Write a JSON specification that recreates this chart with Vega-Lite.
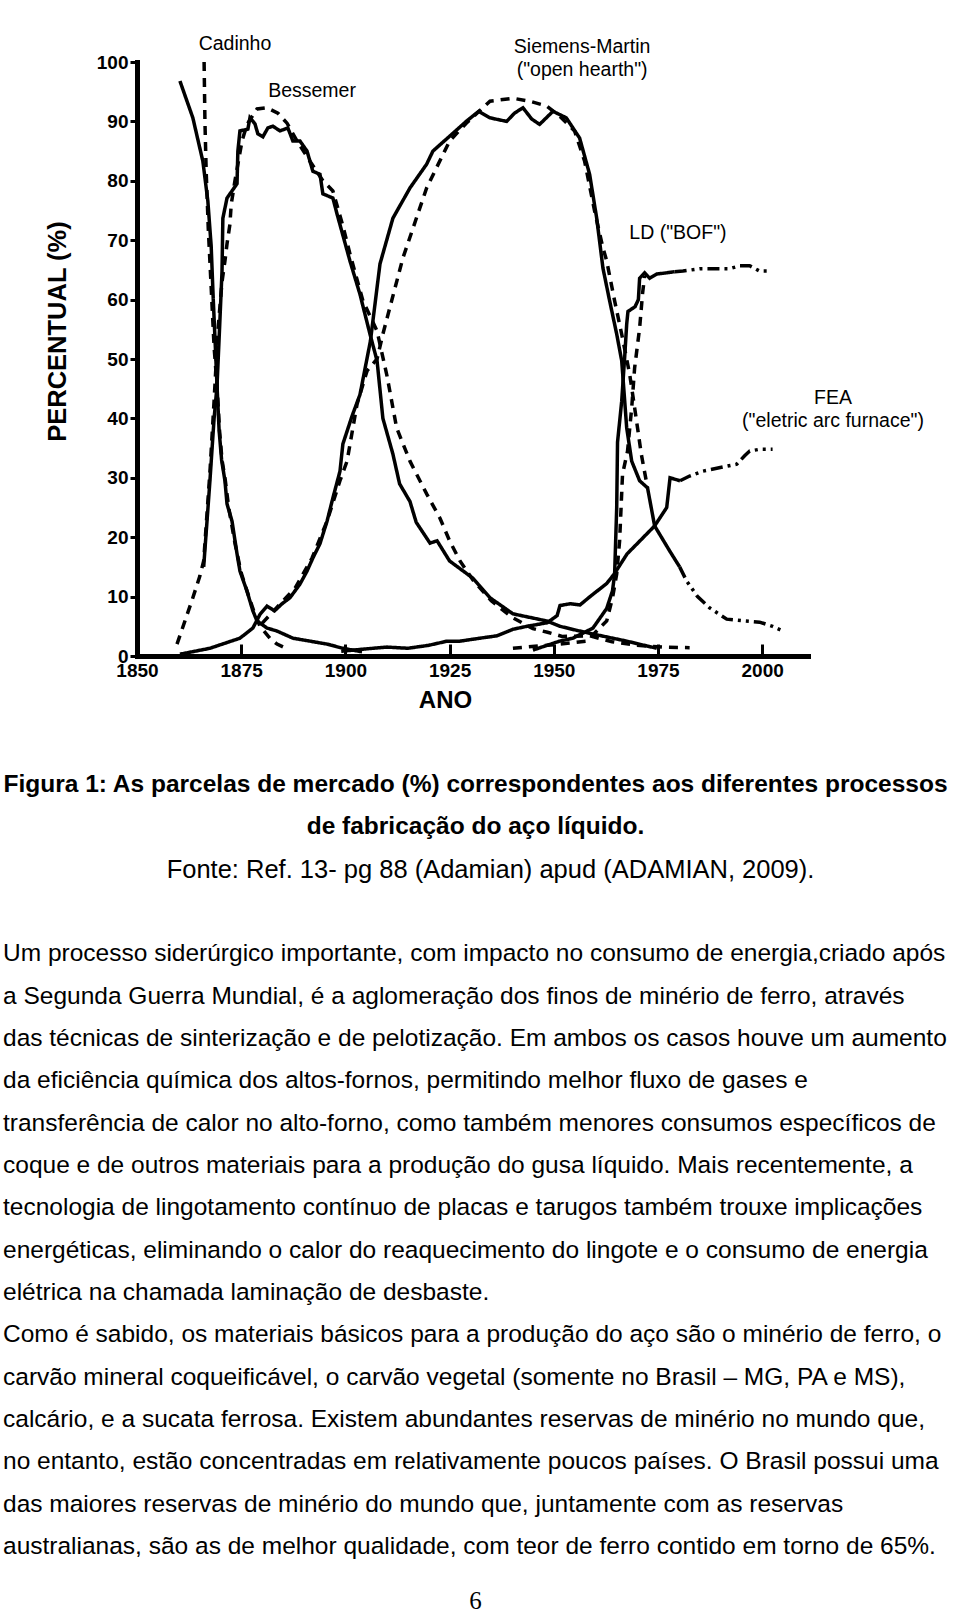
{
  "$schema": "https://vega.github.io/schema/vega-lite/v6.json",
  "background": "white",
  "autosize": {"type": "pad"},
  "padding": {"left": 3, "top": 33, "right": 0, "bottom": 0},
  "spacing": 60,
  "config": {"view": {"stroke": null}, "font": "Liberation Sans", "axis": {"grid": false}},
  "datasets": {
    "curvas": [
      {"processo": "Cadinho", "serie": "a", "ano": 1860.3, "pct": 96.8},
      {"processo": "Cadinho", "serie": "a", "ano": 1863.4, "pct": 90.6},
      {"processo": "Cadinho", "serie": "a", "ano": 1865.8, "pct": 83.3},
      {"processo": "Cadinho", "serie": "a", "ano": 1867.0, "pct": 76.6},
      {"processo": "Cadinho", "serie": "a", "ano": 1867.8, "pct": 69.0},
      {"processo": "Cadinho", "serie": "a", "ano": 1868.3, "pct": 60.0},
      {"processo": "Cadinho", "serie": "a", "ano": 1868.8, "pct": 52.0},
      {"processo": "Cadinho", "serie": "a", "ano": 1869.2, "pct": 45.5},
      {"processo": "Cadinho", "serie": "a", "ano": 1869.7, "pct": 38.0},
      {"processo": "Cadinho", "serie": "a", "ano": 1870.3, "pct": 33.0},
      {"processo": "Cadinho", "serie": "a", "ano": 1871.1, "pct": 29.5},
      {"processo": "Cadinho", "serie": "a", "ano": 1871.6, "pct": 25.6},
      {"processo": "Cadinho", "serie": "a", "ano": 1872.8, "pct": 22.7},
      {"processo": "Cadinho", "serie": "a", "ano": 1874.0, "pct": 17.2},
      {"processo": "Cadinho", "serie": "a", "ano": 1874.7, "pct": 14.3},
      {"processo": "Cadinho", "serie": "a", "ano": 1876.4, "pct": 10.9},
      {"processo": "Cadinho", "serie": "a", "ano": 1877.8, "pct": 7.6},
      {"processo": "Cadinho", "serie": "a", "ano": 1878.8, "pct": 5.9},
      {"processo": "Cadinho", "serie": "a", "ano": 1881.2, "pct": 4.7},
      {"processo": "Cadinho", "serie": "a", "ano": 1883.6, "pct": 4.2},
      {"processo": "Cadinho", "serie": "a", "ano": 1887.4, "pct": 3.0},
      {"processo": "Cadinho", "serie": "a", "ano": 1891.5, "pct": 2.5},
      {"processo": "Cadinho", "serie": "a", "ano": 1895.6, "pct": 2.0},
      {"processo": "Cadinho", "serie": "a", "ano": 1899.4, "pct": 1.3},
      {"processo": "Cadinho", "serie": "a", "ano": 1904.0, "pct": 0.7},
      {"processo": "Cadinho", "serie": "b", "ano": 1866.1, "pct": 100},
      {"processo": "Cadinho", "serie": "b", "ano": 1866.3, "pct": 90},
      {"processo": "Cadinho", "serie": "b", "ano": 1866.6, "pct": 81.6},
      {"processo": "Cadinho", "serie": "b", "ano": 1867.1, "pct": 72},
      {"processo": "Cadinho", "serie": "b", "ano": 1867.8, "pct": 62},
      {"processo": "Cadinho", "serie": "b", "ano": 1868.5, "pct": 52},
      {"processo": "Cadinho", "serie": "b", "ano": 1869.2, "pct": 45.5},
      {"processo": "Cadinho", "serie": "b", "ano": 1869.8, "pct": 38},
      {"processo": "Cadinho", "serie": "b", "ano": 1870.4, "pct": 33},
      {"processo": "Cadinho", "serie": "b", "ano": 1871.2, "pct": 29.5},
      {"processo": "Cadinho", "serie": "b", "ano": 1872.0, "pct": 25},
      {"processo": "Cadinho", "serie": "b", "ano": 1873.5, "pct": 19},
      {"processo": "Cadinho", "serie": "b", "ano": 1875.0, "pct": 14},
      {"processo": "Cadinho", "serie": "b", "ano": 1876.6, "pct": 10.5},
      {"processo": "Cadinho", "serie": "b", "ano": 1878.0, "pct": 7.6},
      {"processo": "Cadinho", "serie": "b", "ano": 1879.5, "pct": 5},
      {"processo": "Cadinho", "serie": "b", "ano": 1881.9, "pct": 3},
      {"processo": "Cadinho", "serie": "b", "ano": 1883.6, "pct": 2},
      {"processo": "Cadinho", "serie": "b", "ano": 1886.0, "pct": 1.2},
      {"processo": "Bessemer", "serie": "a", "ano": 1866.0, "pct": 15},
      {"processo": "Bessemer", "serie": "a", "ano": 1867.5, "pct": 29.5},
      {"processo": "Bessemer", "serie": "a", "ano": 1868.5, "pct": 40},
      {"processo": "Bessemer", "serie": "a", "ano": 1869.2, "pct": 45.5},
      {"processo": "Bessemer", "serie": "a", "ano": 1869.8, "pct": 55},
      {"processo": "Bessemer", "serie": "a", "ano": 1870.4, "pct": 64.8},
      {"processo": "Bessemer", "serie": "a", "ano": 1870.6, "pct": 73.7},
      {"processo": "Bessemer", "serie": "a", "ano": 1871.6, "pct": 77.1},
      {"processo": "Bessemer", "serie": "a", "ano": 1872.8, "pct": 78.3},
      {"processo": "Bessemer", "serie": "a", "ano": 1874.0, "pct": 79.5},
      {"processo": "Bessemer", "serie": "a", "ano": 1874.2, "pct": 85},
      {"processo": "Bessemer", "serie": "a", "ano": 1874.7, "pct": 88.4},
      {"processo": "Bessemer", "serie": "a", "ano": 1876.6, "pct": 88.7},
      {"processo": "Bessemer", "serie": "a", "ano": 1877.1, "pct": 90.6},
      {"processo": "Bessemer", "serie": "a", "ano": 1878.3, "pct": 89.6},
      {"processo": "Bessemer", "serie": "a", "ano": 1879.0, "pct": 87.9},
      {"processo": "Bessemer", "serie": "a", "ano": 1880.2, "pct": 87.4},
      {"processo": "Bessemer", "serie": "a", "ano": 1881.4, "pct": 88.9},
      {"processo": "Bessemer", "serie": "a", "ano": 1882.6, "pct": 89.2},
      {"processo": "Bessemer", "serie": "a", "ano": 1884.3, "pct": 88.4},
      {"processo": "Bessemer", "serie": "a", "ano": 1886.2, "pct": 88.9},
      {"processo": "Bessemer", "serie": "a", "ano": 1887.4, "pct": 86.7},
      {"processo": "Bessemer", "serie": "a", "ano": 1889.1, "pct": 86.7},
      {"processo": "Bessemer", "serie": "a", "ano": 1890.8, "pct": 85},
      {"processo": "Bessemer", "serie": "a", "ano": 1892.2, "pct": 81.6},
      {"processo": "Bessemer", "serie": "a", "ano": 1893.9, "pct": 81.1},
      {"processo": "Bessemer", "serie": "a", "ano": 1894.6, "pct": 77.8},
      {"processo": "Bessemer", "serie": "a", "ano": 1897.0, "pct": 77.1},
      {"processo": "Bessemer", "serie": "a", "ano": 1898.0, "pct": 74.4},
      {"processo": "Bessemer", "serie": "a", "ano": 1901.1, "pct": 66.5},
      {"processo": "Bessemer", "serie": "a", "ano": 1903.5, "pct": 60.9},
      {"processo": "Bessemer", "serie": "a", "ano": 1905.9, "pct": 54.2},
      {"processo": "Bessemer", "serie": "a", "ano": 1907.6, "pct": 49.7},
      {"processo": "Bessemer", "serie": "a", "ano": 1909.0, "pct": 40},
      {"processo": "Bessemer", "serie": "a", "ano": 1911.4, "pct": 34},
      {"processo": "Bessemer", "serie": "a", "ano": 1913.0, "pct": 29},
      {"processo": "Bessemer", "serie": "a", "ano": 1915.5, "pct": 26},
      {"processo": "Bessemer", "serie": "a", "ano": 1917.0, "pct": 22.5},
      {"processo": "Bessemer", "serie": "a", "ano": 1920.3, "pct": 19},
      {"processo": "Bessemer", "serie": "a", "ano": 1922.0, "pct": 19.4},
      {"processo": "Bessemer", "serie": "a", "ano": 1925.0, "pct": 16},
      {"processo": "Bessemer", "serie": "a", "ano": 1930.6, "pct": 13.1},
      {"processo": "Bessemer", "serie": "a", "ano": 1934.7, "pct": 9.8},
      {"processo": "Bessemer", "serie": "a", "ano": 1940.2, "pct": 7.1},
      {"processo": "Bessemer", "serie": "a", "ano": 1948.3, "pct": 5.9},
      {"processo": "Bessemer", "serie": "a", "ano": 1951.5, "pct": 5},
      {"processo": "Bessemer", "serie": "a", "ano": 1955.6, "pct": 4.3},
      {"processo": "Bessemer", "serie": "a", "ano": 1959.4, "pct": 3.7},
      {"processo": "Bessemer", "serie": "a", "ano": 1967.5, "pct": 2.5},
      {"processo": "Bessemer", "serie": "a", "ano": 1974.7, "pct": 1.3},
      {"processo": "Bessemer", "serie": "b", "ano": 1859.6, "pct": 2},
      {"processo": "Bessemer", "serie": "b", "ano": 1861.5, "pct": 5.9},
      {"processo": "Bessemer", "serie": "b", "ano": 1863.4, "pct": 9.8},
      {"processo": "Bessemer", "serie": "b", "ano": 1865.1, "pct": 13.5},
      {"processo": "Bessemer", "serie": "b", "ano": 1866.0, "pct": 16},
      {"processo": "Bessemer", "serie": "b", "ano": 1867.5, "pct": 31},
      {"processo": "Bessemer", "serie": "b", "ano": 1868.5, "pct": 43},
      {"processo": "Bessemer", "serie": "b", "ano": 1869.4, "pct": 54.7},
      {"processo": "Bessemer", "serie": "b", "ano": 1870.4, "pct": 63},
      {"processo": "Bessemer", "serie": "b", "ano": 1871.1, "pct": 66.5},
      {"processo": "Bessemer", "serie": "b", "ano": 1871.6, "pct": 69.4},
      {"processo": "Bessemer", "serie": "b", "ano": 1872.3, "pct": 72.7},
      {"processo": "Bessemer", "serie": "b", "ano": 1872.6, "pct": 76},
      {"processo": "Bessemer", "serie": "b", "ano": 1873.5, "pct": 80},
      {"processo": "Bessemer", "serie": "b", "ano": 1875.2, "pct": 86.7},
      {"processo": "Bessemer", "serie": "b", "ano": 1876.4, "pct": 89.5},
      {"processo": "Bessemer", "serie": "b", "ano": 1878.8, "pct": 92.1},
      {"processo": "Bessemer", "serie": "b", "ano": 1881.2, "pct": 92.3},
      {"processo": "Bessemer", "serie": "b", "ano": 1883.8, "pct": 91.4},
      {"processo": "Bessemer", "serie": "b", "ano": 1886.0, "pct": 89.7},
      {"processo": "Bessemer", "serie": "b", "ano": 1888.4, "pct": 86.7},
      {"processo": "Bessemer", "serie": "b", "ano": 1891.5, "pct": 83.3},
      {"processo": "Bessemer", "serie": "b", "ano": 1894.6, "pct": 80},
      {"processo": "Bessemer", "serie": "b", "ano": 1897.0, "pct": 78.3},
      {"processo": "Bessemer", "serie": "b", "ano": 1899.4, "pct": 72.4},
      {"processo": "Bessemer", "serie": "b", "ano": 1901.1, "pct": 67.7},
      {"processo": "Bessemer", "serie": "b", "ano": 1904.2, "pct": 59.8},
      {"processo": "Bessemer", "serie": "b", "ano": 1907.6, "pct": 54.7},
      {"processo": "Bessemer", "serie": "b", "ano": 1910.0, "pct": 47.1},
      {"processo": "Bessemer", "serie": "b", "ano": 1912.3, "pct": 38.4},
      {"processo": "Bessemer", "serie": "b", "ano": 1915.5, "pct": 32.8},
      {"processo": "Bessemer", "serie": "b", "ano": 1919.5, "pct": 27.3},
      {"processo": "Bessemer", "serie": "b", "ano": 1922.7, "pct": 23.2},
      {"processo": "Bessemer", "serie": "b", "ano": 1925.0, "pct": 19.4},
      {"processo": "Bessemer", "serie": "b", "ano": 1927.5, "pct": 16},
      {"processo": "Bessemer", "serie": "b", "ano": 1930.6, "pct": 12.8},
      {"processo": "Bessemer", "serie": "b", "ano": 1935.0, "pct": 9.3},
      {"processo": "Bessemer", "serie": "b", "ano": 1940.0, "pct": 6.5},
      {"processo": "Bessemer", "serie": "b", "ano": 1945.0, "pct": 4.6},
      {"processo": "Bessemer", "serie": "b", "ano": 1948.5, "pct": 4},
      {"processo": "Bessemer", "serie": "b", "ano": 1952.0, "pct": 3.3},
      {"processo": "Bessemer", "serie": "b", "ano": 1958.6, "pct": 3.4},
      {"processo": "Bessemer", "serie": "b", "ano": 1964.0, "pct": 2.4},
      {"processo": "Bessemer", "serie": "b", "ano": 1970.0, "pct": 1.8},
      {"processo": "Bessemer", "serie": "b", "ano": 1976.0, "pct": 1.5},
      {"processo": "Bessemer", "serie": "b", "ano": 1982.6, "pct": 1.4},
      {"processo": "Siemens-Martin", "serie": "a", "ano": 1860.3, "pct": 0.3},
      {"processo": "Siemens-Martin", "serie": "a", "ano": 1867.5, "pct": 1.3},
      {"processo": "Siemens-Martin", "serie": "a", "ano": 1874.7, "pct": 3},
      {"processo": "Siemens-Martin", "serie": "a", "ano": 1877.8, "pct": 4.7},
      {"processo": "Siemens-Martin", "serie": "a", "ano": 1879.5, "pct": 7},
      {"processo": "Siemens-Martin", "serie": "a", "ano": 1881.2, "pct": 8.4},
      {"processo": "Siemens-Martin", "serie": "a", "ano": 1883.0, "pct": 7.6},
      {"processo": "Siemens-Martin", "serie": "a", "ano": 1884.8, "pct": 8.8},
      {"processo": "Siemens-Martin", "serie": "a", "ano": 1886.7, "pct": 9.8},
      {"processo": "Siemens-Martin", "serie": "a", "ano": 1889.1, "pct": 12.1},
      {"processo": "Siemens-Martin", "serie": "a", "ano": 1890.8, "pct": 14.3},
      {"processo": "Siemens-Martin", "serie": "a", "ano": 1892.2, "pct": 16.5},
      {"processo": "Siemens-Martin", "serie": "a", "ano": 1893.9, "pct": 18.9},
      {"processo": "Siemens-Martin", "serie": "a", "ano": 1895.6, "pct": 22.7},
      {"processo": "Siemens-Martin", "serie": "a", "ano": 1897.0, "pct": 26.6},
      {"processo": "Siemens-Martin", "serie": "a", "ano": 1898.7, "pct": 31.1},
      {"processo": "Siemens-Martin", "serie": "a", "ano": 1899.4, "pct": 35.7},
      {"processo": "Siemens-Martin", "serie": "a", "ano": 1901.6, "pct": 40.4},
      {"processo": "Siemens-Martin", "serie": "a", "ano": 1903.5, "pct": 44},
      {"processo": "Siemens-Martin", "serie": "a", "ano": 1906.0, "pct": 53},
      {"processo": "Siemens-Martin", "serie": "a", "ano": 1908.3, "pct": 66},
      {"processo": "Siemens-Martin", "serie": "a", "ano": 1911.4, "pct": 73.7},
      {"processo": "Siemens-Martin", "serie": "a", "ano": 1915.5, "pct": 78.8},
      {"processo": "Siemens-Martin", "serie": "a", "ano": 1919.5, "pct": 82.8},
      {"processo": "Siemens-Martin", "serie": "a", "ano": 1921.0, "pct": 85},
      {"processo": "Siemens-Martin", "serie": "a", "ano": 1925.0, "pct": 87.5},
      {"processo": "Siemens-Martin", "serie": "a", "ano": 1929.0, "pct": 90},
      {"processo": "Siemens-Martin", "serie": "a", "ano": 1932.0, "pct": 91.7},
      {"processo": "Siemens-Martin", "serie": "a", "ano": 1934.7, "pct": 90.6},
      {"processo": "Siemens-Martin", "serie": "a", "ano": 1938.7, "pct": 90},
      {"processo": "Siemens-Martin", "serie": "a", "ano": 1940.6, "pct": 91.4},
      {"processo": "Siemens-Martin", "serie": "a", "ano": 1942.6, "pct": 92.3},
      {"processo": "Siemens-Martin", "serie": "a", "ano": 1944.7, "pct": 90.4},
      {"processo": "Siemens-Martin", "serie": "a", "ano": 1946.6, "pct": 89.5},
      {"processo": "Siemens-Martin", "serie": "a", "ano": 1949.8, "pct": 91.7},
      {"processo": "Siemens-Martin", "serie": "a", "ano": 1953.0, "pct": 90.6},
      {"processo": "Siemens-Martin", "serie": "a", "ano": 1956.2, "pct": 87.2},
      {"processo": "Siemens-Martin", "serie": "a", "ano": 1958.6, "pct": 81.1},
      {"processo": "Siemens-Martin", "serie": "a", "ano": 1960.3, "pct": 73.7},
      {"processo": "Siemens-Martin", "serie": "a", "ano": 1961.8, "pct": 65.3},
      {"processo": "Siemens-Martin", "serie": "a", "ano": 1963.4, "pct": 59.8},
      {"processo": "Siemens-Martin", "serie": "a", "ano": 1965.1, "pct": 54.2},
      {"processo": "Siemens-Martin", "serie": "a", "ano": 1966.3, "pct": 49.7},
      {"processo": "Siemens-Martin", "serie": "a", "ano": 1967.5, "pct": 38.4},
      {"processo": "Siemens-Martin", "serie": "a", "ano": 1968.7, "pct": 32.8},
      {"processo": "Siemens-Martin", "serie": "a", "ano": 1970.6, "pct": 29.5},
      {"processo": "Siemens-Martin", "serie": "a", "ano": 1972.5, "pct": 28.3},
      {"processo": "Siemens-Martin", "serie": "a", "ano": 1974.2, "pct": 21.9},
      {"processo": "Siemens-Martin", "serie": "a", "ano": 1977.8, "pct": 17.7},
      {"processo": "Siemens-Martin", "serie": "a", "ano": 1980.2, "pct": 15},
      {"processo": "Siemens-Martin", "serie": "c", "ano": 1980.2, "pct": 15},
      {"processo": "Siemens-Martin", "serie": "c", "ano": 1981.9, "pct": 12.6},
      {"processo": "Siemens-Martin", "serie": "c", "ano": 1984.5, "pct": 10},
      {"processo": "Siemens-Martin", "serie": "c", "ano": 1987.4, "pct": 8.1},
      {"processo": "Siemens-Martin", "serie": "c", "ano": 1991.5, "pct": 6.2},
      {"processo": "Siemens-Martin", "serie": "c", "ano": 1995.8, "pct": 5.9},
      {"processo": "Siemens-Martin", "serie": "c", "ano": 1999.4, "pct": 5.7},
      {"processo": "Siemens-Martin", "serie": "c", "ano": 2002.5, "pct": 5},
      {"processo": "Siemens-Martin", "serie": "c", "ano": 2005.0, "pct": 4.2},
      {"processo": "Siemens-Martin", "serie": "b", "ano": 1880.0, "pct": 5.5},
      {"processo": "Siemens-Martin", "serie": "b", "ano": 1884.0, "pct": 8.5},
      {"processo": "Siemens-Martin", "serie": "b", "ano": 1888.0, "pct": 11.5},
      {"processo": "Siemens-Martin", "serie": "b", "ano": 1892.0, "pct": 16.5},
      {"processo": "Siemens-Martin", "serie": "b", "ano": 1895.6, "pct": 22.7},
      {"processo": "Siemens-Martin", "serie": "b", "ano": 1898.7, "pct": 29.5},
      {"processo": "Siemens-Martin", "serie": "b", "ano": 1900.4, "pct": 32.8},
      {"processo": "Siemens-Martin", "serie": "b", "ano": 1902.8, "pct": 42.4},
      {"processo": "Siemens-Martin", "serie": "b", "ano": 1905.2, "pct": 48},
      {"processo": "Siemens-Martin", "serie": "b", "ano": 1907.6, "pct": 50},
      {"processo": "Siemens-Martin", "serie": "b", "ano": 1909.0, "pct": 54.2},
      {"processo": "Siemens-Martin", "serie": "b", "ano": 1913.8, "pct": 67},
      {"processo": "Siemens-Martin", "serie": "b", "ano": 1919.5, "pct": 78.8},
      {"processo": "Siemens-Martin", "serie": "b", "ano": 1925.0, "pct": 86.7},
      {"processo": "Siemens-Martin", "serie": "b", "ano": 1929.0, "pct": 89.7},
      {"processo": "Siemens-Martin", "serie": "b", "ano": 1934.7, "pct": 93.4},
      {"processo": "Siemens-Martin", "serie": "b", "ano": 1940.2, "pct": 93.9},
      {"processo": "Siemens-Martin", "serie": "b", "ano": 1944.2, "pct": 93.4},
      {"processo": "Siemens-Martin", "serie": "b", "ano": 1948.3, "pct": 92.6},
      {"processo": "Siemens-Martin", "serie": "b", "ano": 1951.4, "pct": 90.9},
      {"processo": "Siemens-Martin", "serie": "b", "ano": 1955.0, "pct": 88.4},
      {"processo": "Siemens-Martin", "serie": "b", "ano": 1957.4, "pct": 83.3},
      {"processo": "Siemens-Martin", "serie": "b", "ano": 1959.8, "pct": 74.9},
      {"processo": "Siemens-Martin", "serie": "b", "ano": 1961.7, "pct": 69},
      {"processo": "Siemens-Martin", "serie": "b", "ano": 1962.7, "pct": 66.5},
      {"processo": "Siemens-Martin", "serie": "b", "ano": 1964.6, "pct": 59.8},
      {"processo": "Siemens-Martin", "serie": "b", "ano": 1966.5, "pct": 53.5},
      {"processo": "Siemens-Martin", "serie": "b", "ano": 1968.2, "pct": 47.5},
      {"processo": "Siemens-Martin", "serie": "b", "ano": 1969.4, "pct": 41.8},
      {"processo": "Siemens-Martin", "serie": "b", "ano": 1971.0, "pct": 34},
      {"processo": "Siemens-Martin", "serie": "b", "ano": 1972.5, "pct": 28.3},
      {"processo": "LD", "serie": "a", "ano": 1945.0, "pct": 1},
      {"processo": "LD", "serie": "a", "ano": 1951.4, "pct": 2.5},
      {"processo": "LD", "serie": "a", "ano": 1954.6, "pct": 3},
      {"processo": "LD", "serie": "a", "ano": 1959.4, "pct": 4.7},
      {"processo": "LD", "serie": "a", "ano": 1962.7, "pct": 8},
      {"processo": "LD", "serie": "a", "ano": 1964.1, "pct": 11},
      {"processo": "LD", "serie": "a", "ano": 1964.6, "pct": 13.8},
      {"processo": "LD", "serie": "a", "ano": 1965.1, "pct": 25},
      {"processo": "LD", "serie": "a", "ano": 1965.3, "pct": 36},
      {"processo": "LD", "serie": "a", "ano": 1966.3, "pct": 42.9},
      {"processo": "LD", "serie": "a", "ano": 1967.0, "pct": 50.2},
      {"processo": "LD", "serie": "a", "ano": 1967.5, "pct": 55.9},
      {"processo": "LD", "serie": "a", "ano": 1967.8, "pct": 58},
      {"processo": "LD", "serie": "a", "ano": 1969.5, "pct": 58.8},
      {"processo": "LD", "serie": "a", "ano": 1970.3, "pct": 60},
      {"processo": "LD", "serie": "a", "ano": 1970.6, "pct": 63.6},
      {"processo": "LD", "serie": "a", "ano": 1971.8, "pct": 64.5},
      {"processo": "LD", "serie": "a", "ano": 1973.0, "pct": 63.6},
      {"processo": "LD", "serie": "a", "ano": 1974.7, "pct": 64.3},
      {"processo": "LD", "serie": "a", "ano": 1977.0, "pct": 64.5},
      {"processo": "LD", "serie": "a", "ano": 1979.0, "pct": 64.7},
      {"processo": "LD", "serie": "c", "ano": 1979.0, "pct": 64.7},
      {"processo": "LD", "serie": "c", "ano": 1981.0, "pct": 64.8},
      {"processo": "LD", "serie": "c", "ano": 1985.0, "pct": 65.2},
      {"processo": "LD", "serie": "c", "ano": 1992.2, "pct": 65.2},
      {"processo": "LD", "serie": "c", "ano": 1994.6, "pct": 65.7},
      {"processo": "LD", "serie": "c", "ano": 1997.0, "pct": 65.7},
      {"processo": "LD", "serie": "c", "ano": 1999.4, "pct": 64.8},
      {"processo": "LD", "serie": "c", "ano": 2001.8, "pct": 64.8},
      {"processo": "LD", "serie": "b", "ano": 1940.2, "pct": 1.3},
      {"processo": "LD", "serie": "b", "ano": 1946.6, "pct": 1.7},
      {"processo": "LD", "serie": "b", "ano": 1951.4, "pct": 2},
      {"processo": "LD", "serie": "b", "ano": 1957.9, "pct": 2.5},
      {"processo": "LD", "serie": "b", "ano": 1962.7, "pct": 5.9},
      {"processo": "LD", "serie": "b", "ano": 1964.1, "pct": 9.8},
      {"processo": "LD", "serie": "b", "ano": 1965.1, "pct": 13.8},
      {"processo": "LD", "serie": "b", "ano": 1965.8, "pct": 19.4},
      {"processo": "LD", "serie": "b", "ano": 1966.5, "pct": 30.6},
      {"processo": "LD", "serie": "b", "ano": 1967.7, "pct": 34.5},
      {"processo": "LD", "serie": "b", "ano": 1968.7, "pct": 41.8},
      {"processo": "LD", "serie": "b", "ano": 1969.4, "pct": 48.5},
      {"processo": "LD", "serie": "b", "ano": 1970.6, "pct": 55.2},
      {"processo": "LD", "serie": "b", "ano": 1971.3, "pct": 61},
      {"processo": "LD", "serie": "b", "ano": 1971.8, "pct": 64},
      {"processo": "FEA", "serie": "a", "ano": 1899.0, "pct": 0.8},
      {"processo": "FEA", "serie": "a", "ano": 1905.0, "pct": 1.2},
      {"processo": "FEA", "serie": "a", "ano": 1910.0, "pct": 1.5},
      {"processo": "FEA", "serie": "a", "ano": 1915.0, "pct": 1.3},
      {"processo": "FEA", "serie": "a", "ano": 1920.0, "pct": 1.8},
      {"processo": "FEA", "serie": "a", "ano": 1924.4, "pct": 2.5},
      {"processo": "FEA", "serie": "a", "ano": 1927.5, "pct": 2.5},
      {"processo": "FEA", "serie": "a", "ano": 1932.3, "pct": 3},
      {"processo": "FEA", "serie": "a", "ano": 1936.4, "pct": 3.4},
      {"processo": "FEA", "serie": "a", "ano": 1940.2, "pct": 4.5},
      {"processo": "FEA", "serie": "a", "ano": 1943.6, "pct": 5},
      {"processo": "FEA", "serie": "a", "ano": 1948.4, "pct": 5.6},
      {"processo": "FEA", "serie": "a", "ano": 1950.8, "pct": 6.8},
      {"processo": "FEA", "serie": "a", "ano": 1951.5, "pct": 8.5},
      {"processo": "FEA", "serie": "a", "ano": 1954.0, "pct": 8.8},
      {"processo": "FEA", "serie": "a", "ano": 1956.3, "pct": 8.6},
      {"processo": "FEA", "serie": "a", "ano": 1958.7, "pct": 10},
      {"processo": "FEA", "serie": "a", "ano": 1962.7, "pct": 12.2},
      {"processo": "FEA", "serie": "a", "ano": 1964.5, "pct": 13.8},
      {"processo": "FEA", "serie": "a", "ano": 1967.6, "pct": 17.2},
      {"processo": "FEA", "serie": "a", "ano": 1970.7, "pct": 19.4},
      {"processo": "FEA", "serie": "a", "ano": 1974.2, "pct": 21.9},
      {"processo": "FEA", "serie": "a", "ano": 1977.1, "pct": 25},
      {"processo": "FEA", "serie": "a", "ano": 1977.9, "pct": 30},
      {"processo": "FEA", "serie": "a", "ano": 1980.3, "pct": 29.5},
      {"processo": "FEA", "serie": "c", "ano": 1980.3, "pct": 29.5},
      {"processo": "FEA", "serie": "c", "ano": 1982.6, "pct": 30.3},
      {"processo": "FEA", "serie": "c", "ano": 1985.7, "pct": 31.1},
      {"processo": "FEA", "serie": "c", "ano": 1993.9, "pct": 32.3},
      {"processo": "FEA", "serie": "c", "ano": 1995.8, "pct": 33.7},
      {"processo": "FEA", "serie": "c", "ano": 1997.0, "pct": 34.5},
      {"processo": "FEA", "serie": "c", "ano": 1999.4, "pct": 34.8},
      {"processo": "FEA", "serie": "c", "ano": 2002.5, "pct": 34.8}
    ],
    "rotulos": [
      {"rotulo": "Cadinho", "ano": 1873.5, "pct": 103.1},
      {"rotulo": "Bessemer", "ano": 1892.0, "pct": 95.1},
      {"rotulo": "Siemens-Martin\n(\"open hearth\")", "ano": 1956.8, "pct": 102.5},
      {"rotulo": "LD (\"BOF\")", "ano": 1979.8, "pct": 71.2},
      {"rotulo": "FEA\n(\"eletric arc furnace\")", "ano": 2017.0, "pct": 43.4}
    ],
    "texto": [
      {"linha": 1, "tipo": "legenda", "texto": "Figura 1: As parcelas de mercado (%) correspondentes aos diferentes processos"},
      {"linha": 2, "tipo": "legenda", "texto": "de fabricação do aço líquido."},
      {"linha": 3, "tipo": "fonte", "texto": "Fonte: Ref. 13- pg 88 (Adamian) apud (ADAMIAN, 2009)."},
      {"linha": 5, "tipo": "corpo", "texto": "Um processo siderúrgico importante, com impacto no consumo de energia,criado após"},
      {"linha": 6, "tipo": "corpo", "texto": "a Segunda Guerra Mundial, é a aglomeração dos finos de minério de ferro, através"},
      {"linha": 7, "tipo": "corpo", "texto": "das técnicas de sinterização e de pelotização. Em ambos os casos houve um aumento"},
      {"linha": 8, "tipo": "corpo", "texto": "da    eficiência química dos altos-fornos, permitindo melhor fluxo de gases e"},
      {"linha": 9, "tipo": "corpo", "texto": "transferência de calor no alto-forno, como também menores  consumos específicos de"},
      {"linha": 10, "tipo": "corpo", "texto": "coque e de outros materiais para a produção do gusa líquido. Mais recentemente, a"},
      {"linha": 11, "tipo": "corpo", "texto": "tecnologia de lingotamento contínuo de placas e tarugos também trouxe implicações"},
      {"linha": 12, "tipo": "corpo", "texto": "energéticas, eliminando o calor do reaquecimento do lingote e o consumo de energia"},
      {"linha": 13, "tipo": "corpo", "texto": "elétrica na chamada laminação de desbaste."},
      {"linha": 14, "tipo": "corpo", "texto": "Como é sabido, os materiais básicos para a produção do aço são o minério de ferro, o"},
      {"linha": 15, "tipo": "corpo", "texto": "carvão mineral coqueificável, o carvão vegetal (somente no Brasil – MG, PA e MS),"},
      {"linha": 16, "tipo": "corpo", "texto": "calcário, e a sucata ferrosa. Existem abundantes reservas de minério no mundo que,"},
      {"linha": 17, "tipo": "corpo", "texto": "no entanto, estão concentradas em relativamente poucos países. O Brasil possui uma"},
      {"linha": 18, "tipo": "corpo", "texto": "das maiores reservas de minério do mundo que, juntamente com as reservas"},
      {"linha": 19, "tipo": "corpo", "texto": "australianas, são as de melhor qualidade, com teor de ferro contido em torno de 65%."},
      {"linha": 20, "tipo": "pagina", "texto": "6"}
    ]
  },
  "vconcat": [
    {
      "spacing": 12,
      "hconcat": [
        {"width": 30, "height": 1, "data": {"values": []}, "mark": "point"},
        {
          "width": 671,
          "height": 594,
          "layer": [
            {
              "data": {"name": "curvas"},
              "mark": {"type": "line", "color": "black", "strokeWidth": 3.5},
              "encoding": {
                "x": {
                  "field": "ano", "type": "quantitative",
                  "scale": {"domain": [1850, 2011], "nice": false, "zero": false},
                  "axis": {
                    "title": "ANO", "values": [1850, 1875, 1900, 1925, 1950, 1975, 2000], "format": "d",
                    "labelFontWeight": "bold", "labelFontSize": 19, "labelColor": "black", "labelFlush": false, "labelOverlap": false,
                    "domainColor": "black", "domainWidth": 5, "domainCap": "square",
                    "tickColor": "black", "tickWidth": 3, "tickSize": -12, "labelPadding": 17,
                    "titleFontSize": 24, "titleFontWeight": "bold", "titleColor": "black", "titleX": 308, "titlePadding": 8
                  }
                },
                "y": {
                  "field": "pct", "type": "quantitative",
                  "scale": {"domain": [0, 100], "nice": false},
                  "axis": {
                    "title": "PERCENTUAL (%)", "values": [0, 10, 20, 30, 40, 50, 60, 70, 80, 90, 100],
                    "labelFontWeight": "bold", "labelFontSize": 19, "labelColor": "black",
                    "domainColor": "black", "domainWidth": 5, "domainCap": "square",
                    "tickColor": "black", "tickWidth": 3, "tickSize": 7, "labelPadding": 2,
                    "titleFontSize": 25.5, "titleFontWeight": "bold", "titleColor": "black", "titlePadding": 26, "titleY": 269
                  }
                },
                "detail": {"field": "processo", "type": "nominal"},
                "strokeDash": {
                  "field": "serie", "type": "nominal", "legend": null,
                  "scale": {"domain": ["a", "b", "c"], "range": [[1, 0], [9, 7], [12, 5, 3, 5, 3, 5]]}
                }
              }
            },
            {
              "data": {"name": "rotulos"},
              "mark": {"type": "text", "fontSize": 19.5, "lineBreak": "\n", "lineHeight": 23, "align": "center", "baseline": "middle", "color": "black"},
              "encoding": {
                "x": {"field": "ano", "type": "quantitative"},
                "y": {"field": "pct", "type": "quantitative"},
                "text": {"field": "rotulo"}
              }
            }
          ]
        }
      ]
    },
    {
      "width": 945,
      "height": 762,
      "data": {"name": "texto"},
      "encoding": {
        "y": {"field": "linha", "type": "quantitative", "axis": null, "scale": {"domain": [1, 19], "reverse": true, "nice": false, "zero": false}},
        "text": {"field": "texto"}
      },
      "layer": [
        {"transform": [{"filter": "datum.tipo == 'legenda'"}],
         "mark": {"type": "text", "align": "center", "baseline": "middle", "font": "Liberation Sans", "fontWeight": "bold", "fontSize": 24.5, "color": "black"},
         "encoding": {"x": {"datum": "centro", "type": "nominal", "axis": null}}},
        {"transform": [{"filter": "datum.tipo == 'fonte'"}],
         "mark": {"type": "text", "align": "center", "baseline": "middle", "font": "Liberation Sans", "fontSize": 25.5, "dx": 15, "color": "black"},
         "encoding": {"x": {"datum": "centro", "type": "nominal", "axis": null}}},
        {"transform": [{"filter": "datum.tipo == 'corpo'"}],
         "mark": {"type": "text", "x": 0, "align": "left", "baseline": "middle", "font": "Liberation Sans", "fontSize": 24.5, "color": "black"}},
        {"transform": [{"filter": "datum.tipo == 'pagina'"}],
         "mark": {"type": "text", "align": "center", "baseline": "top", "font": "Liberation Serif", "fontSize": 25, "color": "black"},
         "encoding": {"x": {"datum": "centro", "type": "nominal", "axis": null}}}
      ]
    }
  ]
}
